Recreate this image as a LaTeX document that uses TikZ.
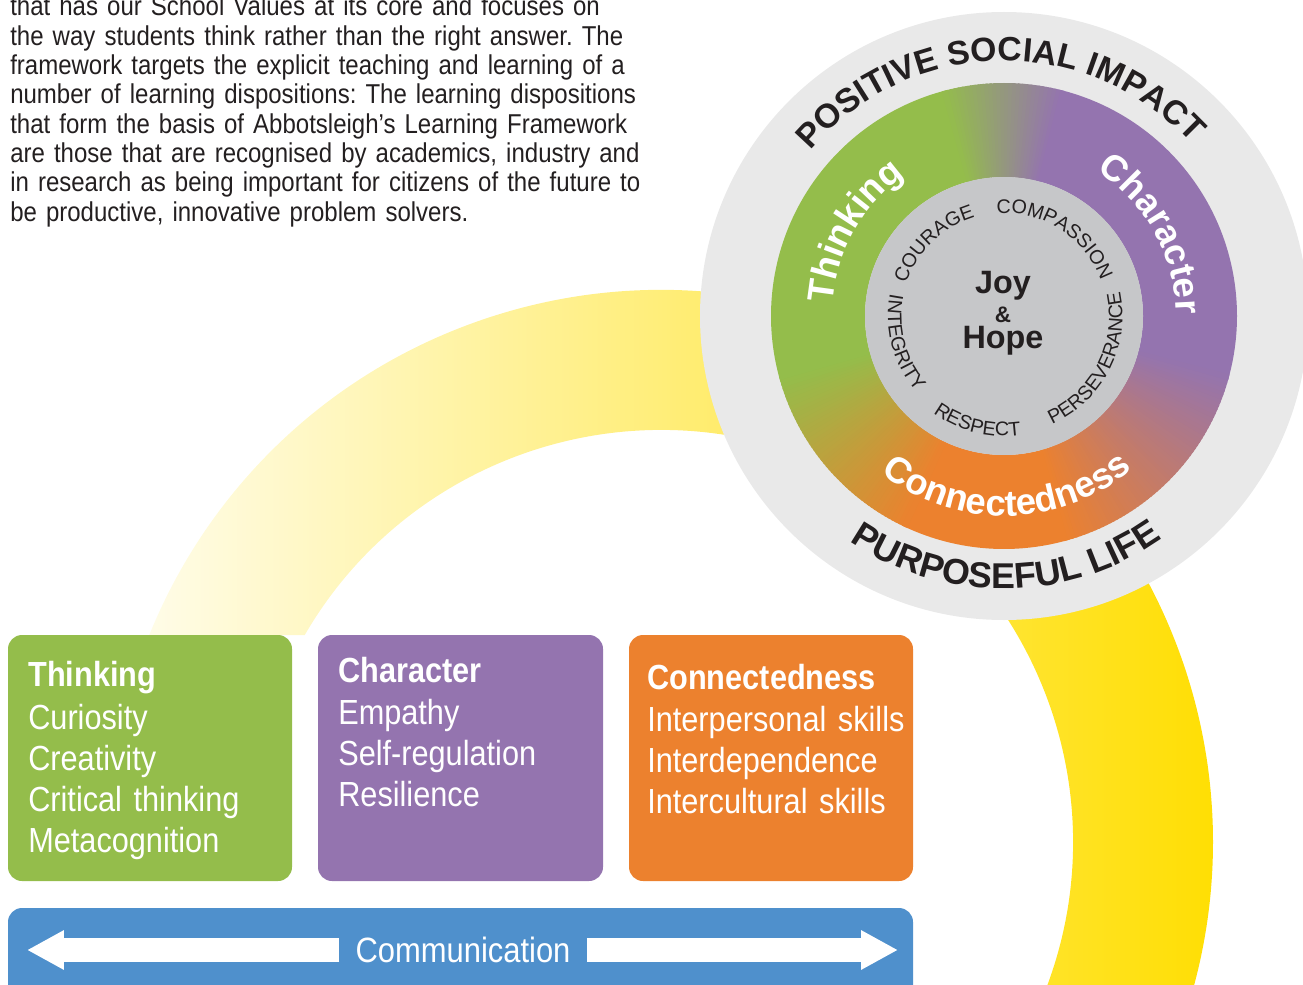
\documentclass[tikz,border=0pt]{standalone}
\usepackage{fontspec}
\setmainfont{Liberation Sans}
\newfontfamily\narrowfont[FakeStretch=0.88]{Liberation Sans}
\usetikzlibrary{arrows.meta, decorations.text}
\definecolor{thinkgreen}{HTML}{94BD4B}
\definecolor{charpurple}{HTML}{9474AF}
\definecolor{connorange}{HTML}{EC812E}
\definecolor{commblue}{HTML}{4F90CC}
\definecolor{ringgray}{HTML}{E9E9E9}
\definecolor{coregray}{HTML}{C6C7C9}
\definecolor{sunyellow}{HTML}{FFDE00}
\definecolor{ink}{HTML}{231F20}
\newcommand{\topfont}{\fontsize{24}{24}\selectfont\bfseries}
\newcommand{\bottomfont}{\fontsize{25.5}{25.5}\selectfont\bfseries}
\newcommand{\ringfont}{\fontsize{26}{26}\selectfont\bfseries}
\newcommand{\valuefont}{\fontsize{14}{14}\selectfont}
\frenchspacing

\begin{document}
\begin{tikzpicture}[x=0.025cm, y=0.025cm,
		paratext/.style={anchor=base west, align=left, text width=18cm, inner sep=0pt, text=ink, font=\narrowfont\fontsize{19.4}{20.86}\selectfont},
		boxtext/.style={anchor=base west, align=left, text width=7cm, inner sep=0pt, text=white, font=\narrowfont\fontsize{24.8}{29.16}\selectfont},
		valuebox/.style={rounded corners=0.35cm},
		commarrow/.style={draw=white, line width=16.4pt, -{Triangle[length=26.3pt, width=26.3pt]}},
		arclabel/.style={decorate, decoration={text along path, text align=center, text color=#1}},
		corelabel/.style={anchor=base, inner sep=0pt, text=ink, font=\bfseries\fontsize{#1}{#1}\selectfont}]
		\useasboundingbox (0,0) rectangle (1303,-985);
		\clip (0,0) rectangle (1303,-985);

		% yellow band behind everything
		\begin{scope}
			\clip (0,0) -- (1303,0) -- (1303,-985) -- (620,-985) -- (620,-635) -- (0,-635) -- cycle;
			\shade[left color=white, right color=sunyellow, shift={(661,-842)}] (200:552) arc[start angle=200, end angle=-25, radius=552] -- (-25:412) arc[start angle=-25, end angle=200, radius=412] -- cycle;
		\end{scope}

		% values wheel
		\begin{scope}[shift={(1004,-316)}]
			\fill[ringgray] (0,0) circle[radius=304];
			\foreach \s/\e/\c in {-16/76/charpurple, 104/196/thinkgreen, 244/286/connorange}
				\fill[\c] (\s:139) arc[start angle=\s, end angle=\e, radius=139] -- (\e:233) arc[start angle=\e, end angle=\s, radius=233] -- cycle;
			\foreach \a in {-75,...,-16} {
				\pgfmathsetmacro\p{(\a+75)/60*100}
				\fill[charpurple!\p!connorange] (\a:139) arc[start angle=\a, end angle=\a+1.5, radius=139] -- (\a+1.5:233) arc[start angle=\a+1.5, end angle=\a, radius=233] -- cycle;
			}
			\foreach \a in {75,...,104} {
				\pgfmathsetmacro\p{(\a-75)/30*100}
				\fill[thinkgreen!\p!charpurple] (\a:139) arc[start angle=\a, end angle=\a+1.5, radius=139] -- (\a+1.5:233) arc[start angle=\a+1.5, end angle=\a, radius=233] -- cycle;
			}
			\foreach \a in {195,...,244} {
				\pgfmathsetmacro\p{(\a-195)/50*100}
				\fill[connorange!\p!thinkgreen] (\a:139) arc[start angle=\a, end angle=\a+1.5, radius=139] -- (\a+1.5:233) arc[start angle=\a+1.5, end angle=\a, radius=233] -- cycle;
			}
			\fill[coregray] (0,0) circle[radius=139];

			\path[arclabel=ink, decoration={text={|\topfont|POSITIVE SOCIAL IMPACT}}] (150:255) arc[start angle=150, end angle=32, radius=255];
			\path[arclabel=ink, decoration={text={|\bottomfont|PURPOSEFUL LIFE}}] (225:273) arc[start angle=225, end angle=316, radius=273];

			\path[arclabel=white, decoration={text={|\ringfont|Thinking}}] (190:172) arc[start angle=190, end angle=111, radius=172];
			\path[arclabel=white, decoration={text={|\ringfont|Character}}] (64:172) arc[start angle=64, end angle=-6, radius=172];
			\path[arclabel=white, decoration={text={|\ringfont|Connectedness}}] (225:200) arc[start angle=225, end angle=317, radius=200];

			\path[arclabel=ink, decoration={text={|\valuefont|COURAGE}}] (177:103) arc[start angle=177, end angle=91, radius=103];
			\path[arclabel=ink, decoration={text={|\valuefont|COMPASSION}}] (103:103) arc[start angle=103, end angle=11, radius=103];
			\path[arclabel=ink, decoration={text={|\valuefont|PERSEVERANCE}}] (-75:118.5) arc[start angle=-75, end angle=21, radius=118.5];
			\path[arclabel=ink, decoration={text={|\valuefont|RESPECT}}] (226:120) arc[start angle=226, end angle=286, radius=120];
			\path[arclabel=ink, decoration={text={|\valuefont|INTEGRITY}}] (160:116) arc[start angle=160, end angle=230, radius=116];
		\end{scope}

		\node[corelabel=23] (joy) at (1003,-293) {Joy};
		\node[corelabel=16] (amp) at (1003,-322) {\&};
		\node[corelabel=23] (hope) at (1003,-348) {Hope};

		% intro text
		\node[paratext] (intro) at (10,-15.7) {that has our School Values at its core and focuses on\\
			the way students think rather than the right answer. The\\
			framework targets the explicit teaching and learning of a\\
			number of learning dispositions: The learning dispositions\\
			that form the basis of Abbotsleigh’s Learning Framework\\
			are those that are recognised by academics, industry and\\
			in research as being important for citizens of the future to\\
			be productive, innovative problem solvers.};

		% three boxes
		\fill[valuebox, thinkgreen] (8,-635) rectangle (292,-881);
		\fill[valuebox, charpurple] (318,-635) rectangle (603,-881);
		\fill[valuebox, connorange] (629,-635) rectangle (913,-881);

		\node[boxtext] (thinklist) at (28,-686) {\textbf{Thinking}\\[2.1pt] Curiosity\\ Creativity\\ Critical thinking\\ Metacognition};
		\node[boxtext] (charlist) at (338,-682) {\textbf{Character}\\[1.4pt] Empathy\\ Self-regulation\\ Resilience};
		\node[boxtext] (connlist) at (647,-689) {\textbf{Connectedness}\\[1.4pt] Interpersonal skills\\ Interdependence\\ Intercultural skills};

		% communication bar
		\fill[valuebox, commblue] (8,-908) rectangle (913,-1010);
		\node[text=white, inner xsep=0.4cm, font=\narrowfont\fontsize{25}{25}\selectfont] (comm) at (463,-950) {Communication};
		\coordinate (commL) at (27,-950);
		\coordinate (commR) at (898,-950);
		\draw[commarrow] (comm) -- (commL);
		\draw[commarrow] (comm) -- (commR);
\end{tikzpicture}
\end{document}
